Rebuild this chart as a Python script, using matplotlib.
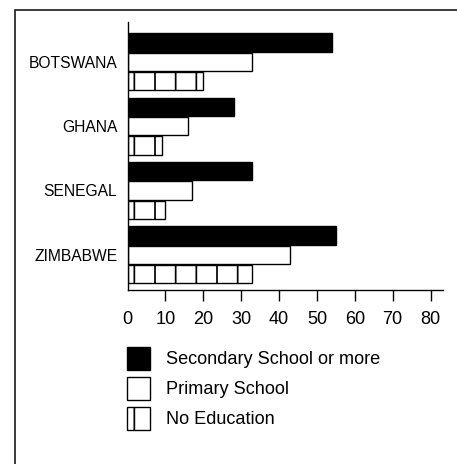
import numpy as np
import matplotlib
matplotlib.use("Agg")
import matplotlib.pyplot as plt
from matplotlib.patches import Patch, Rectangle

plt.rcParams['font.family'] = ['Liberation Sans', 'DejaVu Sans']
plt.rcParams['hatch.linewidth'] = 1.0
plt.rcParams['hatch.color'] = 'black'

# data (percent)
countries = ["BOTSWANA", "GHANA", "SENEGAL", "ZIMBABWE"]
secondary = [54, 28, 33, 55]
primary = [33, 16, 17, 43]
no_education = [20, 9, 10, 33]
series_labels = ["Secondary School or more", "Primary School", "No Education"]
xticks = [0, 10, 20, 30, 40, 50, 60, 70, 80]

W, H, DPI = 457, 464, 124
fig = plt.figure(figsize=(W / DPI, H / DPI), dpi=DPI)

# outer frame (only top and left edges fall inside the image)
fig.patches.append(Rectangle((14.5 / W, -0.1), 1.2, 1.1 - 10.5 / H,
                             transform=fig.transFigure, fill=False,
                             edgecolor='#222222', linewidth=1.0))

ax = fig.add_axes([127.5 / W, 1 - 290 / H, (443 - 127.5) / W, (290 - 22) / H])

y = np.arange(len(countries))
off, h = 0.3, 0.285
lw = 0.8
ax.barh(y - off, secondary, height=h, color='black', edgecolor='black', linewidth=lw)
ax.barh(y, primary, height=h, color='white', edgecolor='black', linewidth=lw)
ax.barh(y + off, no_education, height=h, color='white', edgecolor='black',
        linewidth=lw, hatch='|')

ax.set_ylim(3.547, -0.619)
ax.set_xlim(0, 83.3)
ax.set_yticks(y)
ax.set_yticklabels(countries, fontsize=9.1)
ax.tick_params(axis='y', length=0, pad=6)
ax.set_xticks(xticks)
ax.tick_params(axis='x', direction='out', length=6.4, width=0.8, labelsize=10.5, pad=6)
ax.xaxis.get_major_ticks()[0].tick1line.set_visible(False)

for s in ['top', 'right']:
    ax.spines[s].set_visible(False)
for s in ['left', 'bottom']:
    ax.spines[s].set_linewidth(0.8)

handles = [Patch(facecolor='black', edgecolor='black', linewidth=lw),
           Patch(facecolor='white', edgecolor='black', linewidth=lw),
           Patch(facecolor='white', edgecolor='black', linewidth=lw, hatch='|')]
fig.legend(handles, series_labels, loc='upper left',
           bbox_to_anchor=(127 / W, 1 - 346.5 / H), frameon=False,
           fontsize=10.5, handlelength=1.29, handleheight=1.6,
           handletextpad=0.85, labelspacing=0.38, borderpad=0, borderaxespad=0)

fig.savefig("out.png", dpi=DPI)
